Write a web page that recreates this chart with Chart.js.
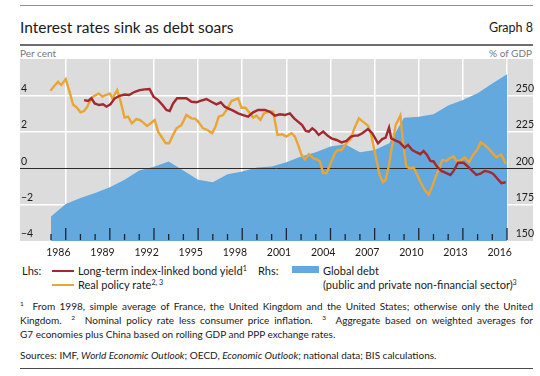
<!DOCTYPE html>
<html>
<head>
<meta charset="utf-8">
<script src="https://cdn.jsdelivr.net/npm/chart.js@4.4.1/dist/chart.umd.min.js"></script>
<style>
  html, body { margin: 0; padding: 0; background: #fff; }
  #fig { position: relative; width: 540px; height: 376px; overflow: hidden;
         font-family: Lato, 'Noto Sans', sans-serif; color: #1a1a1a; }
  #chart { position: absolute; left: 0; top: 0; }
  .abs { position: absolute; white-space: nowrap; }
  .rule { position: absolute; left: 20px; width: 513px; }
  sup { font-size: 0.65em; line-height: 0; vertical-align: 0.55em; }
  .note { left: 20px; width: 513px; font-size: 10px; line-height: 14px; }
  .just { text-align: justify; text-align-last: justify; }
  .leg { font-size: 11px; line-height: 13px; }
  .swatch { position: absolute; }
</style>
</head>
<body>
<div id="fig">
  <div class="rule" style="top:5px;height:1.3px;background:#8f8f8f"></div>
  <div class="abs" style="left:20px;top:17px;font-size:15.5px;line-height:20px">Interest rates sink as debt soars</div>
  <div class="abs" style="right:7px;top:20px;font-size:12.5px;line-height:16px">Graph 8</div>
  <div class="rule" style="top:44px;height:1.7px;background:#6e6e6e"></div>
  <div class="abs" style="left:20px;top:47px;font-size:10px;line-height:12px;color:#7a7a7a">Per cent</div>
  <div class="abs" style="right:8px;top:47px;font-size:10px;line-height:12px;color:#7a7a7a">% of GDP</div>

  <canvas id="chart" width="540" height="262"></canvas>

  <!-- legend -->
  <div class="abs leg" style="left:22px;top:264px">Lhs:</div>
  <div class="swatch" id="swBond" style="left:52px;top:269.5px;width:22px;height:2.5px"></div>
  <div class="abs leg" style="left:78px;top:264px">Long-term index-linked bond yield<sup>1</sup></div>
  <div class="swatch" id="swPolicy" style="left:52px;top:283.5px;width:22px;height:2.5px"></div>
  <div class="abs leg" style="left:78px;top:278px">Real policy rate<sup>2, 3</sup></div>
  <div class="abs leg" style="left:258px;top:264px">Rhs:</div>
  <div class="swatch" id="swDebt" style="left:292px;top:266px;width:27px;height:7px"></div>
  <div class="abs leg" style="left:323px;top:264px">Global debt</div>
  <div class="abs leg" style="left:323px;top:278px">(public and private non-financial sector)<sup>3</sup></div>

  <!-- footnotes -->
  <div class="abs note just" style="top:299px"><sup>1</sup>&nbsp; From 1998, simple average of France, the United Kingdom and the United States; otherwise only the United</div>
  <div class="abs note just" style="top:313px">Kingdom. &nbsp;<sup>2</sup>&nbsp; Nominal policy rate less consumer price inflation. &nbsp;<sup>3</sup>&nbsp; Aggregate based on weighted averages for</div>
  <div class="abs note" style="top:327px">G7 economies plus China based on rolling GDP and PPP exchange rates.</div>
  <div class="abs note" style="top:348px">Sources: IMF, <i>World Economic Outlook</i>; OECD, <i>Economic Outlook</i>; national data; BIS calculations.</div>
  <div class="rule" style="top:368px;height:1.3px;background:#4a4a4a"></div>
</div>

<script>
// Global debt, % of GDP (rhs), annual
const debtYears = [1986, 1987, 1988, 1989, 1990, 1991, 1992, 1993, 1994, 1995, 1996,
  1997, 1998, 1999, 2000, 2001, 2002, 2003, 2004, 2005, 2006, 2007, 2008, 2009,
  2010, 2011, 2012, 2013, 2014, 2015, 2016, 2017];
const debtRatio = [166.8, 175.4, 179.5, 183, 187, 192, 198.5, 201, 204.6, 198.5, 192,
  190.3, 195.8, 197.7, 200.5, 201.1, 204.1, 208, 211, 214.9, 216.4, 211, 212.5, 217.1,
  234.7, 235.3, 237, 243, 246.8, 251.4, 258.2, 264.5];

// Long-term index-linked bond yield, per cent (lhs)
const bondDates = [1988.25, 1988.52, 1988.75, 1988.97, 1989.27, 1989.54, 1989.77, 1990.04,
  1990.33, 1990.67, 1991.0, 1991.3, 1991.7, 1992.03, 1992.37, 1992.7, 1992.97, 1993.28,
  1993.58, 1993.85, 1994.07, 1994.3, 1994.57, 1994.87, 1995.2, 1995.55, 1995.9, 1996.1,
  1996.57, 1996.9, 1997.25, 1997.54, 1997.81, 1998.04, 1998.38, 1998.72, 1999.06, 1999.4,
  1999.74, 2000.08, 2000.54, 2000.88, 2001.22, 2001.56, 2001.9, 2002.24, 2002.53, 2002.85,
  2003.07, 2003.32, 2003.53, 2003.76, 2003.98, 2004.2, 2004.5, 2004.8, 2005.07, 2005.41,
  2005.75, 2006.09, 2006.39, 2006.66, 2006.87, 2007.16, 2007.55, 2007.84, 2008.23, 2008.52,
  2008.75, 2008.98, 2009.13, 2009.47, 2009.7, 2010.04, 2010.27, 2010.56, 2010.83, 2011.1,
  2011.33, 2011.56, 2011.79, 2012.01, 2012.24, 2012.54, 2012.88, 2013.15, 2013.37, 2013.67,
  2014.05, 2014.35, 2014.64, 2014.92, 2015.19, 2015.48, 2015.78, 2016.05, 2016.32, 2016.62,
  2016.91];
const bondYield = [3.74, 3.69, 3.84, 3.56, 3.47, 3.51, 3.38, 3.51,
  3.84, 3.98, 4.05, 4.02, 4.2, 4.29, 4.33, 4.35, 3.93, 3.74,
  3.47, 3.2, 3.14, 3.56, 3.84, 3.84, 3.84, 3.65, 3.62, 3.69,
  3.8, 3.65, 3.51, 3.62, 3.38, 3.29, 3.16, 3.01, 2.92, 2.83,
  3.07, 3.2, 3.2, 3.1, 2.89, 2.96, 2.92, 3.01, 2.74, 2.52,
  2.37, 2.05, 2.01, 2.19, 2.05, 1.83, 2.01, 1.79, 1.64, 1.55,
  1.42, 1.5, 1.74, 1.79, 1.79, 1.92, 2.15, 1.92, 1.37, 1.6,
  1.68, 2.23, 1.64, 1.5, 1.42, 1.13, 1.28, 1.0, 0.88, 0.77,
  0.95, 0.73, 0.4, 0.37, 0.09, -0.15, -0.27, -0.37, -0.15, 0.3,
  0.3, 0.09, -0.15, -0.37, -0.3, -0.15, -0.2, -0.3, -0.55, -0.82,
  -0.77];

// Real policy rate, per cent (lhs)
const policyDates = [1985.96, 1986.18, 1986.48, 1986.7, 1987.0, 1987.23, 1987.5, 1987.77,
  1988.0, 1988.25, 1988.47, 1988.75, 1988.97, 1989.24, 1989.5, 1989.72, 1990.0, 1990.17,
  1990.5, 1990.74, 1991.0, 1991.24, 1991.5, 1991.8, 1992.03, 1992.26, 1992.53, 1992.78,
  1993.05, 1993.28, 1993.5, 1993.8, 1994.03, 1994.3, 1994.53, 1994.87, 1995.2, 1995.55,
  1995.8, 1996.0, 1996.34, 1996.63, 1996.95, 1997.18, 1997.4, 1997.7, 1998.0, 1998.27,
  1998.72, 1998.95, 1999.22, 1999.47, 1999.74, 1999.97, 2000.24, 2000.47, 2000.76, 2001.1,
  2001.4, 2001.71, 2002.0, 2002.35, 2002.58, 2002.8, 2003.03, 2003.26, 2003.53, 2003.82,
  2004.12, 2004.28, 2004.5, 2004.73, 2004.96, 2005.3, 2005.48, 2005.75, 2006.09, 2006.4,
  2006.6, 2006.93, 2007.2, 2007.55, 2007.77, 2008.1, 2008.34, 2008.57, 2008.75, 2008.98,
  2009.2, 2009.43, 2009.75, 2009.93, 2010.15, 2010.38, 2010.65, 2010.83, 2011.1, 2011.4,
  2011.67, 2011.92, 2012.2, 2012.42, 2012.6, 2012.88, 2013.1, 2013.37, 2013.6, 2013.9,
  2014.12, 2014.42, 2014.69, 2014.96, 2015.22, 2015.48, 2015.78, 2016.05, 2016.28, 2016.6,
  2016.93];
const policyRate = [4.26, 4.47, 4.75, 4.57, 4.9, 4.29, 3.5, 3.32,
  3.07, 3.14, 3.38, 3.87, 3.98, 4.11, 3.93, 4.02, 4.11, 3.84,
  4.29, 3.65, 2.78, 2.83, 2.47, 2.7, 2.65, 2.52, 2.32, 2.47,
  2.65, 2.01, 1.74, 1.37, 1.37, 1.83, 2.19, 2.37, 2.92, 2.74,
  2.72, 2.56, 2.19, 2.1, 1.92, 2.28, 2.83, 2.92, 3.29, 3.69,
  3.84, 3.32, 3.32, 3.07, 2.78, 2.89, 2.65, 3.01, 3.1, 3.1,
  1.83, 1.86, 1.74, 1.92, 1.74, 1.28, 0.73, 0.49, 0.77, 0.55,
  0.46, 0.37, -0.27, -0.27, 0.18, 0.82, 1.0, 1.0, 1.37, 1.62,
  2.15, 2.74, 2.56, 2.34, 1.83, 0.55, -0.37, -0.77, -0.64, 0.18,
  1.28, 2.37, 2.89, 1.46, 0.09, 0.0, 0.04, -0.27, -0.73, -1.19,
  -1.46, -1.0, -0.37, 0.04, 0.46, 0.4, 0.55, 0.64, 0.37, 0.46,
  0.6, 0.33, 0.73, 1.0, 1.42, 1.28, 1.05, 0.8, 0.6, 0.75,
  0.24];

// gridline years; each label names the year that ends at its gridline
const gridYears = [1987, 1990, 1993, 1996, 1999, 2002, 2005, 2008, 2011, 2014, 2017];
const yearLabels = ['1986', '1989', '1992', '1995', '1998', '2001', '2004', '2007', '2010', '2013', '2016'];

const colors = { bond: '#a4282e', policy: '#e9a535', debt: '#64a9de', plot: '#dcdcdc', tick: '#1c2533' };

document.getElementById('swBond').style.background = colors.bond;
document.getElementById('swPolicy').style.background = colors.policy;
document.getElementById('swDebt').style.background = colors.debt;

const toPoints = (xs, ys) => xs.map((x, i) => ({ x: x, y: ys[i] }));

const plotBackground = {
  id: 'plotBackground',
  beforeDraw(chart) {
    const { ctx, chartArea: a } = chart;
    ctx.save();
    ctx.fillStyle = colors.plot;
    ctx.fillRect(a.left, a.top, a.width, a.height);
    ctx.restore();
  }
};

// zero line and year ticks sit on top of the debt area, under the two lines
const zeroLineAndTicks = {
  id: 'zeroLineAndTicks',
  afterDatasetDraw(chart, args) {
    if (args.index !== 2) return;
    const { ctx, chartArea: a, scales } = chart;
    ctx.save();
    const y0 = Math.round(scales.y.getPixelForValue(0)) + 0.5;
    ctx.strokeStyle = '#2a2a2a';
    ctx.lineWidth = 1;
    ctx.beginPath();
    ctx.moveTo(a.left, y0);
    ctx.lineTo(a.right, y0);
    ctx.stroke();

    ctx.strokeStyle = colors.tick;
    ctx.lineWidth = 1.3;
    for (let yr = 1986; yr <= 2017; yr++) {
      const x = scales.x.getPixelForValue(yr);
      const len = (yr - 1987) % 3 === 0 ? 12 : 6;
      ctx.beginPath();
      ctx.moveTo(x, a.bottom - 1);
      ctx.lineTo(x, a.bottom - 1 - len);
      ctx.stroke();
    }
    ctx.restore();
  }
};

const yearPx = 14.71;
const tickFont = { family: 'Lato', size: 10.5 };

new Chart(document.getElementById('chart'), {
  data: {
    datasets: [
      {
        type: 'line',
        label: 'Long-term index-linked bond yield',
        data: toPoints(bondDates, bondYield),
        borderColor: colors.bond,
        borderWidth: 2.4,
        pointRadius: 0,
        tension: 0,
        yAxisID: 'y',
        order: 0
      },
      {
        type: 'line',
        label: 'Real policy rate',
        data: toPoints(policyDates, policyRate),
        borderColor: colors.policy,
        borderWidth: 2.4,
        pointRadius: 0,
        tension: 0,
        yAxisID: 'y',
        order: 1
      },
      {
        type: 'line',
        label: 'Global debt',
        data: toPoints(debtYears, debtRatio),
        borderWidth: 0,
        borderColor: colors.debt,
        backgroundColor: colors.debt,
        fill: 'start',
        pointRadius: 0,
        tension: 0,
        yAxisID: 'y1',
        order: 2
      }
    ]
  },
  options: {
    responsive: false,
    animation: false,
    devicePixelRatio: 1,
    layout: { padding: { top: 59, left: 20, right: 7, bottom: 0 } },
    plugins: { legend: { display: false }, tooltip: { enabled: false } },
    scales: {
      x: {
        type: 'linear',
        min: 1986 - 31 / yearPx,
        max: 1986 + 482 / yearPx,
        afterBuildTicks: axis => { axis.ticks = gridYears.map(v => ({ value: v })); },
        afterFit: axis => { axis.height = 21; },
        grid: { color: '#ffffff', lineWidth: 1.5, drawTicks: false },
        border: { display: false },
        ticks: {
          autoSkip: false,
          maxRotation: 0,
          padding: 5,
          labelOffset: -yearPx / 2,
          color: '#1a1a1a',
          font: tickFont,
          callback: (v) => yearLabels[gridYears.indexOf(v)]
        }
      },
      y: {
        position: 'left',
        min: -4,
        max: 6,
        afterFit: axis => { axis.width = 0; },
        grid: {
          color: c => [4, 2, -2].includes(c.tick.value) ? '#ffffff' : 'rgba(0,0,0,0)',
          lineWidth: 1.5,
          drawTicks: false
        },
        border: { display: false },
        ticks: {
          stepSize: 2,
          mirror: true,
          padding: 1,
          labelOffset: -7,
          color: '#1a1a1a',
          font: tickFont,
          callback: v => v === 6 ? '' : String(v).replace('-', '\u2212')
        }
      },
      y1: {
        position: 'right',
        min: 150,
        max: 275,
        afterFit: axis => { axis.width = 0; },
        grid: { display: false, drawTicks: false },
        border: { display: false },
        ticks: {
          stepSize: 25,
          mirror: true,
          padding: 1,
          labelOffset: -7,
          color: '#1a1a1a',
          font: tickFont,
          callback: v => v === 275 ? '' : String(v)
        }
      }
    }
  },
  plugins: [plotBackground, zeroLineAndTicks]
});
</script>
</body>
</html>
